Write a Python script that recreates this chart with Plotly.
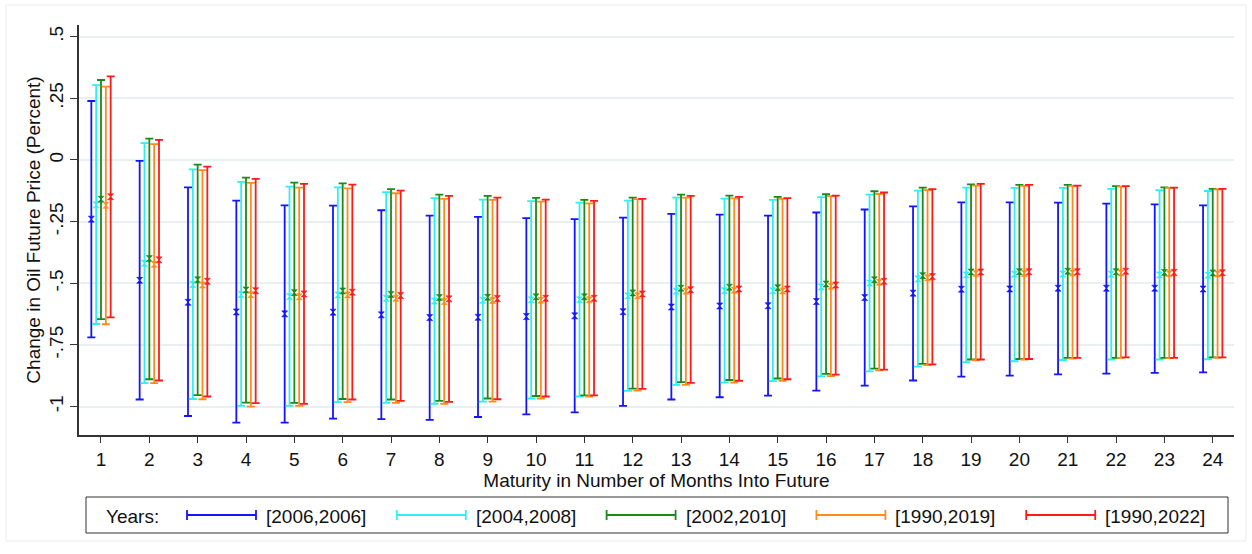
import plotly.graph_objects as go

maturity = list(range(1, 25))
series_names = ["[2006,2006]", "[2004,2008]", "[2002,2010]", "[1990,2019]", "[1990,2022]"]
series_colors = ["#1414ff", "#2ef0f0", "#1a8a1a", "#ff8c1a", "#ff1a1a"]

est_2006 = [-0.240, -0.488, -0.577, -0.616, -0.624, -0.617, -0.628, -0.639, -0.638, -0.635, -0.632, -0.615,
            -0.596, -0.592, -0.591, -0.574, -0.558, -0.540, -0.524, -0.523, -0.520, -0.520, -0.520, -0.523]
lo_2006 = [-0.719, -0.971, -1.038, -1.065, -1.065, -1.049, -1.051, -1.054, -1.042, -1.031, -1.023, -0.997,
           -0.971, -0.962, -0.955, -0.935, -0.915, -0.894, -0.878, -0.874, -0.869, -0.866, -0.863, -0.861]
hi_2006 = [0.239, -0.004, -0.111, -0.165, -0.184, -0.185, -0.204, -0.226, -0.231, -0.236, -0.240, -0.234,
           -0.219, -0.222, -0.226, -0.213, -0.201, -0.188, -0.172, -0.172, -0.173, -0.177, -0.180, -0.184]

est_0408 = [-0.182, -0.419, -0.505, -0.545, -0.554, -0.547, -0.561, -0.572, -0.569, -0.567, -0.567, -0.551,
            -0.532, -0.530, -0.530, -0.515, -0.499, -0.482, -0.466, -0.463, -0.462, -0.463, -0.466, -0.467]
lo_0408 = [-0.665, -0.905, -0.969, -0.997, -0.997, -0.982, -0.985, -0.989, -0.980, -0.967, -0.959, -0.936,
           -0.912, -0.903, -0.897, -0.877, -0.857, -0.838, -0.820, -0.816, -0.811, -0.809, -0.809, -0.808]
hi_0408 = [0.303, 0.068, -0.038, -0.089, -0.108, -0.111, -0.131, -0.155, -0.161, -0.167, -0.173, -0.165,
           -0.153, -0.157, -0.162, -0.151, -0.141, -0.124, -0.112, -0.113, -0.113, -0.117, -0.122, -0.126]

est_0210 = [-0.159, -0.400, -0.486, -0.527, -0.538, -0.531, -0.545, -0.558, -0.557, -0.555, -0.555, -0.539,
            -0.520, -0.516, -0.518, -0.503, -0.486, -0.469, -0.454, -0.453, -0.451, -0.453, -0.456, -0.458]
lo_0210 = [-0.645, -0.889, -0.953, -0.984, -0.985, -0.969, -0.971, -0.977, -0.967, -0.957, -0.954, -0.927,
           -0.901, -0.892, -0.886, -0.867, -0.846, -0.827, -0.809, -0.807, -0.802, -0.802, -0.802, -0.800]
hi_0210 = [0.324, 0.086, -0.019, -0.072, -0.092, -0.095, -0.118, -0.141, -0.146, -0.154, -0.162, -0.153,
           -0.141, -0.145, -0.150, -0.139, -0.127, -0.112, -0.099, -0.101, -0.101, -0.106, -0.111, -0.117]

est_9019 = [-0.184, -0.423, -0.507, -0.546, -0.555, -0.547, -0.561, -0.574, -0.570, -0.569, -0.567, -0.551,
            -0.532, -0.528, -0.531, -0.512, -0.496, -0.478, -0.460, -0.460, -0.458, -0.458, -0.461, -0.462]
lo_9019 = [-0.666, -0.905, -0.970, -1.000, -0.997, -0.982, -0.985, -0.989, -0.980, -0.967, -0.959, -0.935,
           -0.912, -0.903, -0.896, -0.876, -0.853, -0.832, -0.812, -0.809, -0.805, -0.802, -0.803, -0.802]
hi_9019 = [0.297, 0.064, -0.041, -0.093, -0.112, -0.115, -0.135, -0.158, -0.162, -0.169, -0.176, -0.159,
           -0.153, -0.156, -0.158, -0.147, -0.138, -0.122, -0.104, -0.105, -0.105, -0.108, -0.113, -0.119]

est_9022 = [-0.149, -0.405, -0.492, -0.530, -0.543, -0.536, -0.550, -0.563, -0.562, -0.561, -0.561, -0.543,
            -0.526, -0.523, -0.523, -0.507, -0.492, -0.473, -0.454, -0.453, -0.453, -0.451, -0.456, -0.457]
lo_9022 = [-0.638, -0.894, -0.959, -0.986, -0.989, -0.971, -0.977, -0.981, -0.970, -0.959, -0.954, -0.928,
           -0.904, -0.895, -0.889, -0.870, -0.850, -0.829, -0.809, -0.807, -0.802, -0.800, -0.802, -0.800]
hi_9022 = [0.339, 0.081, -0.027, -0.077, -0.097, -0.100, -0.124, -0.146, -0.153, -0.161, -0.166, -0.158,
           -0.146, -0.150, -0.155, -0.145, -0.132, -0.118, -0.097, -0.101, -0.104, -0.106, -0.112, -0.117]

y_tickvals = [0.5, 0.25, 0, -0.25, -0.5, -0.75, -1]
y_ticktext = [".5", ".25", "0", "-.25", "-.5", "-.75", "-1"]

ests = [est_2006, est_0408, est_0210, est_9019, est_9022]
los = [lo_2006, lo_0408, lo_0210, lo_9019, lo_9022]
his = [hi_2006, hi_0408, hi_0210, hi_9019, hi_9022]

FONT = "Liberation Sans, Arial, Helvetica, sans-serif"
FS = 19
W, H = 1252, 554
ML, MR, MT, MB = 79, 18, 25, 119
PW, PH = W - ML - MR, H - MT - MB

fig = go.Figure()
n = len(series_names)
for i in range(n):
    off = (i - (n - 1) / 2) * 0.1
    xs = [m + off for m in maturity]
    e, lo, hi = ests[i], los[i], his[i]
    fig.add_trace(go.Scatter(
        x=xs, y=e, mode="markers", name=series_names[i], showlegend=False,
        marker=dict(symbol="hourglass", size=6, color=series_colors[i],
                    line=dict(color=series_colors[i], width=0.6)),
        error_y=dict(type="data", symmetric=False,
                     array=[h - v for h, v in zip(hi, e)],
                     arrayminus=[v - l for v, l in zip(e, lo)],
                     color=series_colors[i], thickness=1.8, width=4),
    ))

def px_x(p):
    return (p - ML) / PW

def px_y(p):
    return (H - MB - p) / PH

shapes = []
shapes.append(dict(type="line", xref="paper", x0=0, x1=1, yref="y", y0=0, y1=0,
                   line=dict(color="#a0a0a0", width=1.6, dash="dash"), layer="below"))
shapes.append(dict(type="rect", xref="paper", yref="paper",
                   x0=px_x(6), x1=px_x(1246), y0=px_y(541), y1=px_y(5),
                   line=dict(color="#ececec", width=1)))
shapes.append(dict(type="rect", xref="paper", yref="paper",
                   x0=px_x(86), x1=px_x(1228), y0=px_y(533), y1=px_y(497),
                   line=dict(color="#333333", width=1)))

annotations = [dict(text="Years:", xref="paper", yref="paper", x=px_x(104), y=px_y(516),
                    xanchor="left", yanchor="middle", showarrow=False,
                    font=dict(family=FONT, size=FS, color="#111111"))]
leg_start, leg_step, leg_len = 187, 209.8, 69
ly = 515
for i in range(n):
    x0 = leg_start + i * leg_step
    x1 = x0 + leg_len
    c = series_colors[i]
    shapes.append(dict(type="line", xref="paper", yref="paper", x0=px_x(x0), x1=px_x(x1),
                       y0=px_y(ly), y1=px_y(ly), line=dict(color=c, width=1.8)))
    for xx in (x0, x1):
        shapes.append(dict(type="line", xref="paper", yref="paper", x0=px_x(xx), x1=px_x(xx),
                           y0=px_y(ly - 5), y1=px_y(ly + 5), line=dict(color=c, width=1.8)))
    annotations.append(dict(text=series_names[i], xref="paper", yref="paper", x=px_x(x1 + 8), y=px_y(ly + 1),
                            xanchor="left", yanchor="middle", showarrow=False,
                            font=dict(family=FONT, size=FS, color="#111111")))

fig.update_layout(
    width=W, height=H,
    margin=dict(l=ML, r=MR, t=MT, b=MB, pad=0, autoexpand=False),
    paper_bgcolor="white", plot_bgcolor="white",
    font=dict(family=FONT, size=FS, color="#111111"),
    showlegend=False,
    shapes=shapes, annotations=annotations,
    xaxis=dict(range=[0.545, 24.44], tickmode="array", tickvals=maturity,
               ticktext=[str(m) for m in maturity], automargin=False,
               showgrid=False, zeroline=False, showline=True, linecolor="#333333", linewidth=1.5,
               ticks="outside", ticklen=6, tickcolor="#333333", tickwidth=1.2,
               tickfont=dict(family=FONT, size=FS, color="#111111"),
               title=dict(text="Maturity in Number of Months Into Future", standoff=2,
                          font=dict(family=FONT, size=FS, color="#111111"))),
    yaxis=dict(range=[-1.115, 0.547], tickmode="array", tickvals=y_tickvals, ticktext=y_ticktext,
               tickangle=-90, automargin=False,
               showgrid=True, gridcolor="#e9f0f2", gridwidth=1.5, zeroline=False,
               showline=True, linecolor="#333333", linewidth=1.5,
               ticks="outside", ticklen=7, tickcolor="#333333", tickwidth=1.2,
               tickfont=dict(family=FONT, size=FS, color="#111111"),
               title=dict(text="Change in Oil Future Price (Percent)", standoff=0,
                          font=dict(family=FONT, size=FS, color="#111111"))),
)

fig.write_html("out.html", config={"displayModeBar": False},
               post_script="document.body.style.margin='0px';document.body.style.padding='0px';")
